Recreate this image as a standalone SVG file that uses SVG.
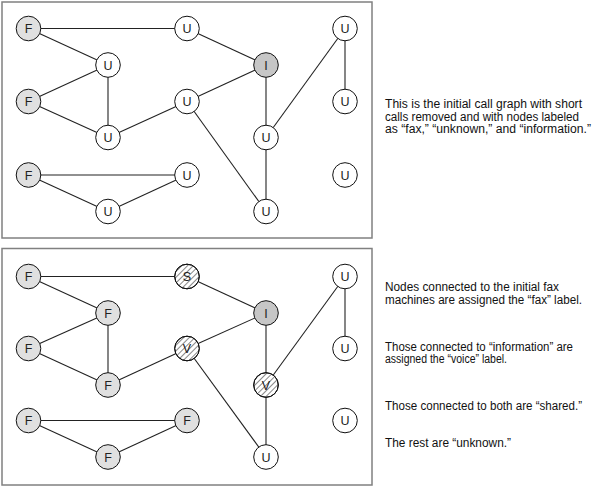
<svg xmlns="http://www.w3.org/2000/svg" width="596" height="488" viewBox="0 0 596 488">
<defs>
<style>
.frame{fill:#fff;stroke:#808080;stroke-width:1.5}
.e{stroke:#222;stroke-width:1.1;fill:none}
.n{stroke:#111;stroke-width:1}
.u{fill:#fff}
.f{fill:#e0e0e0}
.i{fill:#c6c6c6}
.h{fill:url(#hatch)}
.lbl{font-family:"Liberation Sans Narrow","Liberation Sans",Arial,sans-serif;font-size:12.5px;fill:#222;text-anchor:middle}
.t{font-family:"Liberation Sans Narrow","Liberation Sans",Arial,sans-serif;font-size:12px;fill:#111}
</style>
<pattern id="hatch" patternUnits="userSpaceOnUse" width="4" height="4" patternTransform="rotate(45)">
<line x1="0" y1="0" x2="0" y2="4" stroke="#111" stroke-width="1"/>
</pattern>
</defs>
<rect width="596" height="488" fill="#fff"/>
<rect class="frame" x="2" y="2" width="370" height="236"/>
<rect class="frame" x="2" y="248.5" width="370" height="236.5"/>

<g id="connectors-top">
<line class="e" x1="28.5" y1="28.5" x2="187" y2="28.5"/>
<line class="e" x1="28.5" y1="28.5" x2="108" y2="65"/>
<line class="e" x1="187" y1="28.5" x2="266" y2="65"/>
<line class="e" x1="108" y1="65" x2="28.5" y2="101.5"/>
<line class="e" x1="108" y1="65" x2="108" y2="137.5"/>
<line class="e" x1="28.5" y1="101.5" x2="108" y2="137.5"/>
<line class="e" x1="108" y1="137.5" x2="187" y2="101.5"/>
<line class="e" x1="187" y1="101.5" x2="266" y2="65"/>
<line class="e" x1="187" y1="101.5" x2="266" y2="211.5"/>
<line class="e" x1="266" y1="65" x2="266" y2="137.5"/>
<line class="e" x1="266" y1="137.5" x2="266" y2="211.5"/>
<line class="e" x1="266" y1="137.5" x2="345" y2="28.5"/>
<line class="e" x1="345" y1="28.5" x2="345" y2="101.5"/>
<line class="e" x1="28.5" y1="175" x2="187" y2="175"/>
<line class="e" x1="28.5" y1="175" x2="108" y2="211.5"/>
<line class="e" x1="108" y1="211.5" x2="187" y2="175"/>
</g>

<g id="t-n1"><circle class="n f" cx="28.5" cy="28.5" r="12.3"/><text class="lbl" x="28.5" y="33">F</text></g>
<g id="t-n2"><circle class="n u" cx="187" cy="28.5" r="12.3"/><text class="lbl" x="187" y="33">U</text></g>
<g id="t-n3"><circle class="n u" cx="345" cy="28.5" r="12.3"/><text class="lbl" x="345" y="33">U</text></g>
<g id="t-n4"><circle class="n u" cx="108" cy="65" r="12.3"/><text class="lbl" x="108" y="69.5">U</text></g>
<g id="t-n5"><circle class="n i" cx="266" cy="65" r="12.3"/><text class="lbl" x="266" y="69.5">I</text></g>
<g id="t-n6"><circle class="n f" cx="28.5" cy="101.5" r="12.3"/><text class="lbl" x="28.5" y="106">F</text></g>
<g id="t-n7"><circle class="n u" cx="187" cy="101.5" r="12.3"/><text class="lbl" x="187" y="106">U</text></g>
<g id="t-n8"><circle class="n u" cx="345" cy="101.5" r="12.3"/><text class="lbl" x="345" y="106">U</text></g>
<g id="t-n9"><circle class="n u" cx="108" cy="137.5" r="12.3"/><text class="lbl" x="108" y="142">U</text></g>
<g id="t-n10"><circle class="n u" cx="266" cy="137.5" r="12.3"/><text class="lbl" x="266" y="142">U</text></g>
<g id="t-n11"><circle class="n f" cx="28.5" cy="175" r="12.3"/><text class="lbl" x="28.5" y="179.5">F</text></g>
<g id="t-n12"><circle class="n u" cx="187" cy="175" r="12.3"/><text class="lbl" x="187" y="179.5">U</text></g>
<g id="t-n13"><circle class="n u" cx="345" cy="175" r="12.3"/><text class="lbl" x="345" y="179.5">U</text></g>
<g id="t-n14"><circle class="n u" cx="108" cy="211.5" r="12.3"/><text class="lbl" x="108" y="216">U</text></g>
<g id="t-n15"><circle class="n u" cx="266" cy="211.5" r="12.3"/><text class="lbl" x="266" y="216">U</text></g>

<g id="connectors-bottom">
<line class="e" x1="28.5" y1="276.5" x2="187" y2="276.5"/>
<line class="e" x1="28.5" y1="276.5" x2="108" y2="313"/>
<line class="e" x1="187" y1="276.5" x2="266" y2="313"/>
<line class="e" x1="108" y1="313" x2="28.5" y2="348.5"/>
<line class="e" x1="108" y1="313" x2="108" y2="385"/>
<line class="e" x1="28.5" y1="348.5" x2="108" y2="385"/>
<line class="e" x1="108" y1="385" x2="187" y2="348.5"/>
<line class="e" x1="187" y1="348.5" x2="266" y2="313"/>
<line class="e" x1="187" y1="348.5" x2="266" y2="457"/>
<line class="e" x1="266" y1="313" x2="266" y2="385"/>
<line class="e" x1="266" y1="385" x2="266" y2="457"/>
<line class="e" x1="266" y1="385" x2="345" y2="276.5"/>
<line class="e" x1="345" y1="276.5" x2="345" y2="348.5"/>
<line class="e" x1="28.5" y1="420.5" x2="187" y2="420.5"/>
<line class="e" x1="28.5" y1="420.5" x2="108" y2="457"/>
<line class="e" x1="108" y1="457" x2="187" y2="420.5"/>
</g>

<g id="b-n1"><circle class="n f" cx="28.5" cy="276.5" r="12.3"/><text class="lbl" x="28.5" y="281">F</text></g>
<g id="b-n2"><circle class="n u" cx="187" cy="276.5" r="12.3"/><text class="lbl" x="187" y="281">S</text><circle class="n h" cx="187" cy="276.5" r="12.3"/></g>
<g id="b-n3"><circle class="n u" cx="345" cy="276.5" r="12.3"/><text class="lbl" x="345" y="281">U</text></g>
<g id="b-n4"><circle class="n f" cx="108" cy="313" r="12.3"/><text class="lbl" x="108" y="317.5">F</text></g>
<g id="b-n5"><circle class="n i" cx="266" cy="313" r="12.3"/><text class="lbl" x="266" y="317.5">I</text></g>
<g id="b-n6"><circle class="n f" cx="28.5" cy="348.5" r="12.3"/><text class="lbl" x="28.5" y="353">F</text></g>
<g id="b-n7"><circle class="n u" cx="187" cy="348.5" r="12.3"/><text class="lbl" x="187" y="353">V</text><circle class="n h" cx="187" cy="348.5" r="12.3"/></g>
<g id="b-n8"><circle class="n u" cx="345" cy="348.5" r="12.3"/><text class="lbl" x="345" y="353">U</text></g>
<g id="b-n9"><circle class="n f" cx="108" cy="385" r="12.3"/><text class="lbl" x="108" y="389.5">F</text></g>
<g id="b-n10"><circle class="n u" cx="266" cy="385" r="12.3"/><text class="lbl" x="266" y="389.5">V</text><circle class="n h" cx="266" cy="385" r="12.3"/></g>
<g id="b-n11"><circle class="n f" cx="28.5" cy="420.5" r="12.3"/><text class="lbl" x="28.5" y="425">F</text></g>
<g id="b-n12"><circle class="n f" cx="187" cy="420.5" r="12.3"/><text class="lbl" x="187" y="425">F</text></g>
<g id="b-n13"><circle class="n u" cx="345" cy="420.5" r="12.3"/><text class="lbl" x="345" y="425">U</text></g>
<g id="b-n14"><circle class="n f" cx="108" cy="457" r="12.3"/><text class="lbl" x="108" y="461.5">F</text></g>
<g id="b-n15"><circle class="n u" cx="266" cy="457" r="12.3"/><text class="lbl" x="266" y="461.5">U</text></g>

<g id="caption-top">
<text class="t" x="385" y="108" textLength="197" lengthAdjust="spacingAndGlyphs">This is the initial call graph with short</text>
<text class="t" x="385" y="120.5" textLength="194" lengthAdjust="spacingAndGlyphs">calls removed and with nodes labeled</text>
<text class="t" x="385" y="133" textLength="206" lengthAdjust="spacingAndGlyphs">as “fax,” “unknown,” and “information.”</text>
</g>
<g id="caption-bottom">
<text class="t" x="385" y="291" textLength="174" lengthAdjust="spacingAndGlyphs">Nodes connected to the initial fax</text>
<text class="t" x="385" y="303.5" textLength="197" lengthAdjust="spacingAndGlyphs">machines are assigned the “fax” label.</text>
<text class="t" x="385" y="350.5" textLength="188" lengthAdjust="spacingAndGlyphs">Those connected to “information” are</text>
<text class="t" x="385" y="363" textLength="122" lengthAdjust="spacingAndGlyphs">assigned the “voice” label.</text>
<text class="t" x="385" y="409.5" textLength="197" lengthAdjust="spacingAndGlyphs">Those connected to both are “shared.”</text>
<text class="t" x="385" y="447" textLength="126" lengthAdjust="spacingAndGlyphs">The rest are “unknown.”</text>
</g>
</svg>
